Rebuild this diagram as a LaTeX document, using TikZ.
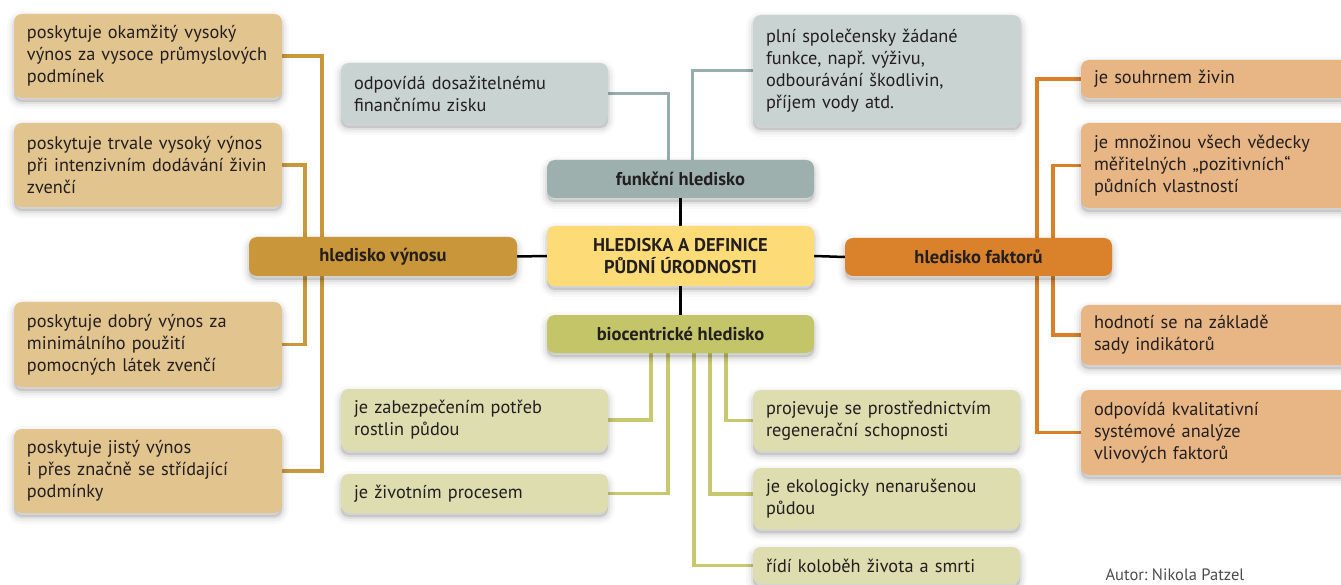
\documentclass[tikz,border=0pt]{standalone}
\usepackage{fontspec}
\setmainfont{PT Sans}
\frenchspacing
\usetikzlibrary{shadows,backgrounds}
\definecolor{txt}{RGB}{35,31,32}
\definecolor{tanL}{RGB}{226,196,143}
\definecolor{tanH}{RGB}{201,150,58}
\definecolor{tanLn}{RGB}{201,152,60}
\definecolor{grayL}{RGB}{201,211,209}
\definecolor{grayH}{RGB}{158,176,174}
\definecolor{grayLn}{RGB}{150,175,172}
\definecolor{yel}{RGB}{253,219,118}
\definecolor{bioH}{RGB}{196,196,104}
\definecolor{bioL}{RGB}{221,221,176}
\definecolor{bioLn}{RGB}{200,200,110}
\definecolor{orH}{RGB}{217,130,43}
\definecolor{orL}{RGB}{232,182,132}
\definecolor{orLn}{RGB}{219,128,40}
\tikzset{
  shad/.style={
    general shadow={fill=black, draw=black, line width=14pt, opacity=0.025, shadow yshift=-4pt},
    general shadow={fill=black, draw=black, line width=9pt, opacity=0.04, shadow yshift=-4pt},
    general shadow={fill=black, draw=black, line width=4pt, opacity=0.06, shadow yshift=-4pt}},
  box/.style={shad, rounded corners=8pt, inner xsep=13pt, inner ysep=3pt,
    font=\fontsize{18.3}{22}\selectfont, text=txt, align=left},
  leaf/.style 2 args={box, text width=#1-26pt, minimum height=#2},
  head/.style 2 args={box, minimum width=#1, minimum height=#2, align=center,
    font=\fontsize{18.5}{22}\selectfont\bfseries},
  ln/.style={line width=3.5pt},
  blk/.style={line width=2.5pt, black},
}
\begin{document}
\begin{tikzpicture}[x=1pt, y=-1pt]
\useasboundingbox (0,0) rectangle (1341,585);
% headers
\node[head={267pt}{60pt}, fill=yel] (c) at (680.5,256) {HLEDISKA A DEFINICE\\PŮDNÍ ÚRODNOSTI};
\node[head={267pt}{38pt}, fill=grayH] (funk) at (680.5,179) {funkční hledisko};
\node[head={267pt}{38pt}, fill=bioH] (bio) at (680.5,334) {biocentrické hledisko};
\node[head={268pt}{39pt}, fill=tanH] (vyn) at (383,256.5) {hledisko výnosu};
\node[head={267pt}{38pt}, fill=orH] (fak) at (978.5,257) {hledisko faktorů};
% left
\node[leaf={268pt}{84pt}, fill=tanL] (L1) at (148,56) {poskytuje okamžitý vysoký\\výnos za vysoce průmyslových\\podmínek};
\node[leaf={268pt}{84pt}, fill=tanL] (L2) at (148,165) {poskytuje trvale vysoký výnos\\při intenzivním dodávání živin\\zvenčí};
\node[leaf={268pt}{85pt}, fill=tanL] (L3) at (148,344.5) {poskytuje dobrý výnos za\\minimálního použití\\pomocných látek zvenčí};
\node[leaf={268pt}{84pt}, fill=tanL] (L4) at (148,471) {poskytuje jistý výnos\\i přes značně se střídající\\podmínky};
% gray
\node[leaf={267pt}{61pt}, fill=grayL] (G1) at (474.5,93.5) {odpovídá dosažitelnému\\finančnímu zisku};
\node[leaf={268pt}{111pt}, fill=grayL] (G2) at (887,70.5) {plní společensky žádané\\funkce, např. výživu,\\odbourávání škodlivin,\\příjem vody atd.};
% factors
\node[leaf={268pt}{38pt}, fill=orL] (F1) at (1215,79) {je souhrnem živin};
\node[leaf={268pt}{85pt}, fill=orL] (F2) at (1215,165.5) {je množinou všech vědecky\\měřitelných „pozitivních“\\půdních vlastností};
\node[leaf={268pt}{60pt}, fill=orL] (F3) at (1215,335) {hodnotí se na základě\\sady indikátorů};
\node[leaf={268pt}{85pt}, fill=orL] (F4) at (1215,432.5) {odpovídá kvalitativní\\systémové analýze\\vlivových faktorů};
% bio
\node[leaf={267pt}{62pt}, fill=bioL] (B1) at (474.5,420) {je zabezpečením potřeb\\rostlin půdou};
\node[leaf={267pt}{39pt}, fill=bioL] (B2) at (474.5,493.5) {je životním procesem};
\node[leaf={267pt}{61pt}, fill=bioL] (B3) at (886.5,420.5) {projevuje se prostřednictvím\\regenerační schopnosti};
\node[leaf={267pt}{61pt}, fill=bioL] (B4) at (886.5,498.5) {je ekologicky nenarušenou\\půdou};
\node[leaf={267pt}{37pt}, fill=bioL] (B5) at (886.5,565.5) {řídí koloběh života a smrti};
% author
\node[font=\fontsize{16.5}{18}\selectfont, text=black!70, anchor=west] (aut) at (1102,575) {Autor: Nikola Patzel};
% connectors
\begin{scope}[on background layer]
\draw[ln, tanLn] (L1.east) -- ++(40,0) |- (L4.east);
\draw[ln, tanLn] (L2.east) -- ++(23,0) |- (L3.east);
\draw[ln, orLn] (F1.west) -- ++(-44,0) |- (F4.west);
\draw[ln, orLn] (F2.west) -- ++(-28,0) |- (F3.west);
\draw[ln, grayLn] (G1.east) -| ([xshift=-12pt]funk.north);
\draw[ln, grayLn] (G2.west) -| ([xshift=12pt]funk.north);
\draw[ln, bioLn] (B1.east) -| ([xshift=-29.5pt]bio.south);
\draw[ln, bioLn] (B2.east) -| ([xshift=-12.5pt]bio.south);
\draw[ln, bioLn] (B5.west) -| ([xshift=13.5pt]bio.south);
\draw[ln, bioLn] ([yshift=4.5pt]B4.west) -| ([xshift=29.5pt]bio.south);
\draw[ln, bioLn] (B3.west) -| ([xshift=45.5pt]bio.south);
\draw[blk] (funk.south) -- (c.north);
\draw[blk] (c.south) -- (bio.north);
\draw[blk] (vyn.east) -- (c.west);
\draw[blk] (c.east) -- (fak.west);
\end{scope}
\end{tikzpicture}
\end{document}
